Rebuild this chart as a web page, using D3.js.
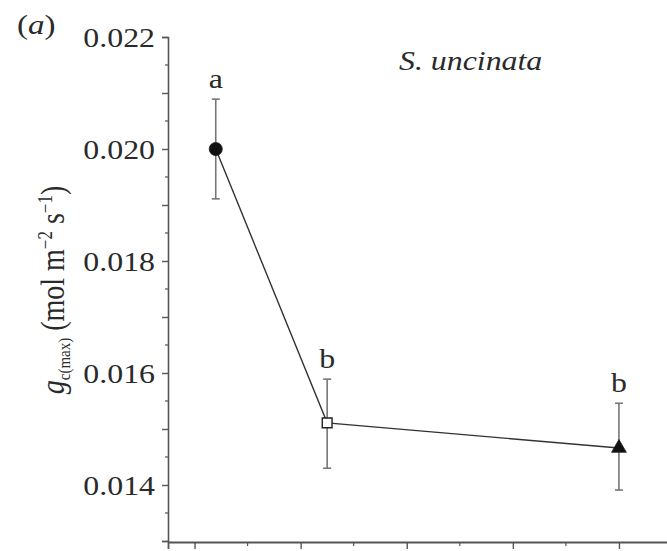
<!DOCTYPE html>
<html>
<head>
<meta charset="utf-8">
<script src="https://cdn.jsdelivr.net/npm/d3@7"></script>
<style>
  body { margin: 0; background: #fff; }
  text { font-family: "Liberation Serif", "Times New Roman", Times, serif; fill: #2a2a2a; }
</style>
</head>
<body>
<script>
// data
var xVals = [2, 12.5, 40];
var means = [0.0200, 0.01511, 0.01466];
var errLo = [0.01911, 0.01430, 0.01391];
var errHi = [0.02089, 0.01589, 0.01546];
var sigLetters = ["a", "b", "b"];
var markers = ["circle", "square", "triangle"];

var yMajor = [0.013, 0.014, 0.015, 0.016, 0.017, 0.018, 0.019, 0.020, 0.021, 0.022];
var yLabelled = [0.014, 0.016, 0.018, 0.020, 0.022];
var yMinor = [0.0135, 0.0145, 0.0155, 0.0165, 0.0175, 0.0185, 0.0195, 0.0205, 0.0215];
var xMajor = [0, 10, 20, 30, 40];
var xMinor = [5, 15, 25, 35];

var W = 667, H = 551;
var sx = 1.18; // the figure is stretched a bit sideways

var svg = d3.select("body").append("svg")
    .attr("width", W)
    .attr("height", H);

var x = d3.scaleLinear().domain([-2.5, 45]).range([168, 672]);
var y = d3.scaleLinear().domain([0.013, 0.022]).range([541, 37]);

var axisCol = "#555";

// y axis
var yAx = svg.append("g")
    .attr("transform", "translate(" + x(-2.5) + ",0)")
    .call(d3.axisLeft(y).tickValues(yMajor).tickSize(6).tickPadding(0)
        .tickFormat(function(d) {
            return yLabelled.some(function(v) { return Math.abs(v - d) < 1e-9; }) ? d3.format(".3f")(d) : "";
        }));
yAx.select(".domain").attr("stroke", axisCol).attr("stroke-width", 1.6);
yAx.selectAll(".tick line").attr("stroke", axisCol).attr("stroke-width", 1.4);
yAx.selectAll(".tick text")
    .attr("x", -11)
    .attr("dy", "0.34em")
    .attr("transform", "scale(" + sx + ",1)")
    .style("font-size", "27px")
    .style("font-family", "'Liberation Serif', 'Times New Roman', serif")
    .attr("fill", "#2a2a2a");

svg.append("g").selectAll("line")
    .data(yMinor)
    .enter().append("line")
    .attr("x1", x(-2.5) - 3).attr("x2", x(-2.5))
    .attr("y1", function(d) { return y(d); })
    .attr("y2", function(d) { return y(d); })
    .attr("stroke", axisCol).attr("stroke-width", 1.2);

// x axis
var xAx = svg.append("g")
    .attr("transform", "translate(0," + (y(0.013) + 1) + ")")
    .call(d3.axisBottom(x).tickValues(xMajor).tickSize(7).tickFormat(""));
xAx.select(".domain").attr("stroke", axisCol).attr("stroke-width", 1.8);
xAx.selectAll(".tick line").attr("stroke", axisCol).attr("stroke-width", 1.4);

svg.append("g").selectAll("line")
    .data(xMinor)
    .enter().append("line")
    .attr("x1", function(d) { return x(d); })
    .attr("x2", function(d) { return x(d); })
    .attr("y1", y(0.013) + 1).attr("y2", y(0.013) + 5)
    .attr("stroke", axisCol).attr("stroke-width", 1.2);

// error bars
var pts = xVals.map(function(v, i) {
    return { x: v, m: means[i], lo: errLo[i], hi: errHi[i], lab: sigLetters[i], mk: markers[i] };
});

var eb = svg.append("g").selectAll("g").data(pts).enter().append("g");
eb.append("line")
    .attr("x1", function(d) { return x(d.x); }).attr("x2", function(d) { return x(d.x); })
    .attr("y1", function(d) { return y(d.lo); }).attr("y2", function(d) { return y(d.hi); })
    .attr("stroke", "#777").attr("stroke-width", 1.6);
eb.append("line")
    .attr("x1", function(d) { return x(d.x) - 4; }).attr("x2", function(d) { return x(d.x) + 4; })
    .attr("y1", function(d) { return y(d.lo); }).attr("y2", function(d) { return y(d.lo); })
    .attr("stroke", "#777").attr("stroke-width", 1.6);
eb.append("line")
    .attr("x1", function(d) { return x(d.x) - 4; }).attr("x2", function(d) { return x(d.x) + 4; })
    .attr("y1", function(d) { return y(d.hi); }).attr("y2", function(d) { return y(d.hi); })
    .attr("stroke", "#777").attr("stroke-width", 1.6);

// connecting line
var line = d3.line()
    .x(function(d) { return x(d.x); })
    .y(function(d) { return y(d.m); });
svg.append("path")
    .datum(pts)
    .attr("d", line)
    .attr("fill", "none")
    .attr("stroke", "#333")
    .attr("stroke-width", 1.4);

// markers
var symType = { circle: d3.symbolCircle, square: d3.symbolSquare, triangle: d3.symbolTriangle };
var symSize = { circle: 135, square: 95, triangle: 95 };
svg.append("g").selectAll("path")
    .data(pts)
    .enter().append("path")
    .attr("transform", function(d) { return "translate(" + x(d.x) + "," + y(d.m) + ")"; })
    .attr("d", function(d) { return d3.symbol().type(symType[d.mk]).size(symSize[d.mk])(); })
    .attr("fill", function(d) { return d.mk == "square" ? "#fff" : "#111"; })
    .attr("stroke", "#222")
    .attr("stroke-width", function(d) { return d.mk == "square" ? 1.4 : 0.8; });

// significance letters
svg.append("g").selectAll("text")
    .data(pts)
    .enter().append("text")
    .attr("transform", function(d) { return "translate(" + x(d.x) + "," + (y(d.hi) - 11) + ") scale(" + sx + ",1)"; })
    .attr("text-anchor", "middle")
    .style("font-size", "27px")
    .text(function(d) { return d.lab; });

// species name
svg.append("text")
    .attr("transform", "translate(399,70) scale(" + sx + ",1)")
    .style("font-size", "27px")
    .style("font-style", "italic")
    .text("S. uncinata");

// panel label
var pl = svg.append("text")
    .attr("transform", "translate(17,34) scale(" + sx + ",1)")
    .style("font-size", "28px");
pl.append("tspan").text("(");
pl.append("tspan").style("font-style", "italic").text("a");
pl.append("tspan").text(")");

// y axis title
var yt = svg.append("text")
    .attr("transform", "translate(64,290) rotate(-90) scale(1," + sx + ")")
    .attr("text-anchor", "middle")
    .style("font-size", "28px");
yt.append("tspan").style("font-style", "italic").text("g");
yt.append("tspan").attr("dy", 5).style("font-size", "15px").text("c(max)");
yt.append("tspan").attr("dy", -5).text(" (mol m");
yt.append("tspan").attr("dy", -10).style("font-size", "17px").text("\u22122");
yt.append("tspan").attr("dy", 10).text(" s");
yt.append("tspan").attr("dy", -10).style("font-size", "17px").text("\u22121");
yt.append("tspan").attr("dy", 10).text(")");
</script>
</body>
</html>
